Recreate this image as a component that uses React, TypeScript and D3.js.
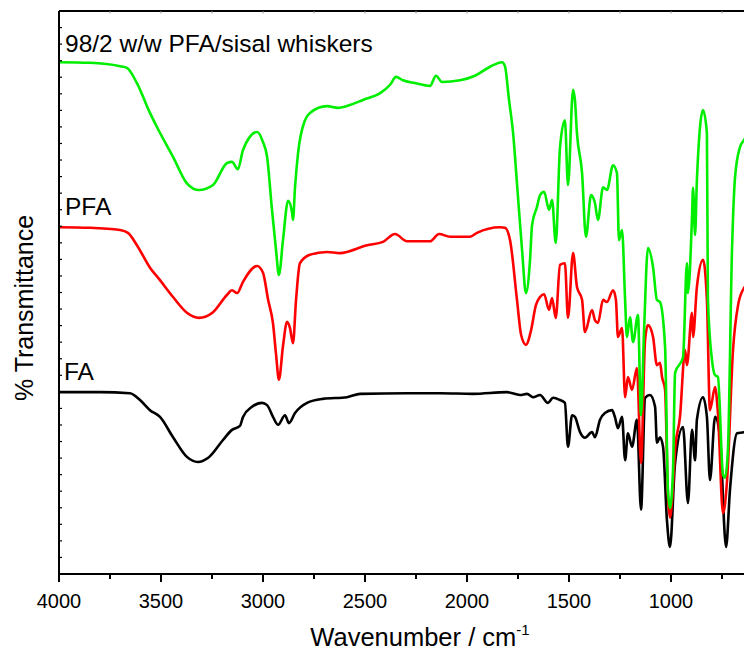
import React from 'react';
import * as d3 from 'd3';

const xMajorTicks = [4000, 3500, 3000, 2500, 2000, 1500, 1000];
const xMinorTicks = [3750, 3250, 2750, 2250, 1750, 1250, 750];
const topTicks = [3750, 3500, 3250, 3000, 2750, 2500, 2250, 2000, 1750, 1500, 1250, 1000, 750, 500];
const yTickCount = 34;

// series: [wavenumber (cm-1), transmittance (arb. %)]
const sisal: [number, number][] = [
  [4000, 90.9], [3848, 90.8], [3701, 90.2], [3667, 89.9], [3618, 87.2], [3554, 81.9], [3520, 79.4],
  [3441, 74.1], [3373, 69.4], [3314, 68.2], [3245, 69.1], [3176, 73.0], [3152, 73.2], [3123, 71.9],
  [3098, 75.3], [3029, 78.5], [3000, 76.7], [2980, 74.1], [2956, 64.7], [2936, 57.5], [2922, 53.1],
  [2902, 59.3], [2877, 66.3], [2858, 64.3], [2853, 62.9], [2843, 68.7], [2828, 74.8], [2794, 80.6],
  [2770, 81.9], [2686, 83.1], [2632, 82.8], [2574, 83.3], [2510, 84.2], [2426, 85.4], [2377, 86.9],
  [2348, 88.3], [2314, 87.7], [2255, 87.2], [2181, 86.7], [2152, 88.5], [2123, 87.4], [2034, 87.7],
  [1961, 88.5], [1887, 90.1], [1828, 90.9], [1814, 90.2], [1794, 84.2], [1774, 78.3], [1755, 69.4],
  [1730, 57.5], [1711, 49.9], [1691, 55.8], [1681, 62.0], [1657, 65.2], [1642, 67.3], [1622, 67.9],
  [1598, 64.7], [1583, 66.4], [1565, 58.8], [1544, 75.8], [1520, 80.6], [1505, 69.1], [1480, 86.0],
  [1471, 84.2], [1461, 78.3], [1436, 71.2], [1417, 59.9], [1392, 67.3], [1373, 65.9], [1358, 62.9],
  [1333, 68.7], [1314, 68.2], [1284, 72.6], [1265, 71.2], [1255, 59.3], [1240, 61.1], [1225, 48.7],
  [1216, 42.1], [1201, 45.6], [1186, 41.2], [1162, 46.0], [1147, 28.2], [1132, 43.3], [1113, 57.9],
  [1088, 54.5], [1069, 48.7], [1054, 48.3], [1029, 40.3], [1015, 14.9], [1005, 11.7], [990, 18.5],
  [980, 35.7], [941, 38.5], [922, 55.2], [917, 49.9], [897, 63.4], [892, 68.6], [882, 60.2],
  [873, 70.0], [843, 82.4], [824, 78.3], [819, 48.7], [799, 38.0], [784, 35.3], [770, 35.0],
  [745, 17.6], [735, 17.1], [721, 22.0], [701, 57.5], [686, 70.5], [662, 75.8], [642, 77.1],
  [600, 79.0], [400, 80.0],
];

const pfa: [number, number][] = [
  [4000, 61.6], [3848, 61.5], [3701, 61.1], [3662, 60.6], [3618, 58.4], [3554, 54.4], [3505, 52.2],
  [3441, 49.2], [3373, 46.4], [3314, 45.5], [3245, 46.5], [3176, 49.6], [3152, 50.4], [3127, 49.9],
  [3098, 51.9], [3029, 54.7], [3000, 53.5], [2975, 48.7], [2951, 44.5], [2936, 39.0], [2922, 34.5],
  [2902, 40.5], [2882, 44.8], [2868, 43.7], [2853, 41.0], [2838, 48.7], [2819, 55.2], [2770, 56.7],
  [2686, 57.2], [2623, 57.0], [2490, 58.4], [2412, 59.0], [2353, 60.4], [2294, 59.1], [2181, 59.1],
  [2137, 60.4], [2083, 59.9], [1985, 59.9], [1951, 60.6], [1838, 61.6], [1814, 61.5], [1789, 59.3],
  [1755, 48.7], [1735, 42.5], [1711, 40.7], [1686, 43.3], [1662, 47.8], [1642, 49.2], [1622, 49.7],
  [1598, 46.9], [1583, 49.0], [1565, 45.5], [1544, 54.9], [1520, 55.2], [1505, 45.5], [1480, 57.0],
  [1461, 51.0], [1436, 48.7], [1422, 43.0], [1387, 46.9], [1373, 45.1], [1358, 44.6], [1333, 48.7],
  [1314, 48.3], [1284, 50.4], [1270, 48.7], [1260, 42.1], [1240, 43.7], [1225, 31.4], [1211, 35.0],
  [1191, 32.7], [1167, 36.6], [1147, 19.7], [1127, 41.6], [1113, 44.2], [1088, 42.1], [1069, 37.1],
  [1054, 37.5], [1044, 35.0], [1029, 32.7], [1015, 14.0], [1005, 10.0], [993, 14.0], [980, 22.0],
  [956, 27.9], [931, 39.8], [922, 37.1], [897, 46.4], [892, 42.1], [873, 51.0], [843, 55.8],
  [824, 48.7], [809, 29.1], [784, 33.2], [770, 28.6], [745, 10.8], [725, 16.7], [696, 39.8],
  [671, 47.8], [642, 50.8], [600, 52.0], [400, 53.0],
];

const fa: [number, number][] = [
  [4000, 32.3], [3799, 32.3], [3652, 32.1], [3603, 30.9], [3554, 29.1], [3505, 27.9], [3441, 24.3],
  [3373, 20.8], [3319, 19.9], [3270, 20.6], [3196, 23.8], [3152, 25.6], [3113, 26.3], [3098, 27.9],
  [3054, 29.7], [3005, 30.4], [2980, 30.0], [2951, 27.9], [2926, 26.5], [2892, 28.2], [2873, 26.8],
  [2843, 28.6], [2784, 30.4], [2706, 31.1], [2588, 31.4], [2524, 32.0], [2294, 32.1], [2132, 32.1],
  [1971, 32.0], [1804, 32.3], [1740, 31.8], [1706, 32.0], [1676, 31.4], [1642, 31.8], [1603, 30.4],
  [1578, 31.3], [1544, 30.9], [1520, 30.4], [1505, 22.6], [1485, 28.2], [1471, 27.9], [1446, 25.2],
  [1422, 24.2], [1387, 25.2], [1373, 24.3], [1348, 27.4], [1324, 28.6], [1289, 29.1], [1275, 27.9],
  [1260, 25.9], [1240, 27.9], [1225, 20.2], [1211, 25.0], [1191, 22.6], [1167, 27.4], [1147, 11.4],
  [1127, 31.3], [1103, 31.8], [1078, 29.7], [1069, 23.3], [1054, 24.3], [1039, 22.6], [1020, 9.6],
  [1005, 4.8], [980, 19.7], [941, 26.1], [917, 12.6], [897, 25.6], [882, 20.2], [873, 27.4],
  [843, 31.4], [824, 27.9], [809, 16.7], [784, 27.9], [760, 24.3], [730, 4.8], [711, 14.9],
  [676, 25.0], [642, 25.2], [600, 26.0], [400, 26.0],
];

const FONT = '"Liberation Sans", Arial, Helvetica, sans-serif';

export default function App() {
  const left = 59, right = 793.4, top = 11, bottom = 574;
  const x = d3.scaleLinear().domain([4000, 400]).range([left, right]);
  const y = d3.scaleLinear().domain([0, 100]).range([bottom, top]);
  const line = d3
    .line<[number, number]>()
    .x((d) => x(d[0]))
    .y((d) => y(d[1]))
    .curve(d3.curveMonotoneX);
  const yTicks = d3.range(0, yTickCount + 1).map((i) => (i * 100) / yTickCount);

  return (
    <svg width={744} height={657} style={{ position: 'absolute', left: 0, top: 0, display: 'block', background: '#fff' }}>
      <defs>
        <clipPath id="plot">
          <rect x={left} y={top} width={right - left} height={bottom - top} />
        </clipPath>
      </defs>
      <rect x={0} y={0} width={744} height={657} fill="#fff" />
      <g clipPath="url(#plot)" fill="none" strokeWidth={2.6} strokeLinejoin="round" strokeLinecap="round">
        <path d={line(fa) || ''} stroke="#000000" />
        <path d={line(pfa) || ''} stroke="#ff0000" />
        <path d={line(sisal) || ''} stroke="#00ee00" />
      </g>
      {/* frame */}
      <line x1={left} x2={right} y1={top} y2={top} stroke="#000" strokeWidth={2.2} />
      <line x1={left} x2={right} y1={bottom} y2={bottom} stroke="#000" strokeWidth={2} />
      <line x1={left} x2={left} y1={top} y2={bottom} stroke="#000" strokeWidth={2} />
      {/* left ticks (inward) */}
      {yTicks.map((t, i) => (
        <line key={'yt' + i} x1={left} x2={left + 3} y1={y(t)} y2={y(t)} stroke="#000" strokeWidth={1.2} />
      ))}
      {/* top ticks */}
      {topTicks.map((t) => (
        <line key={'tt' + t} x1={x(t)} x2={x(t)} y1={top} y2={top + 2.5} stroke="#888" strokeWidth={1} />
      ))}
      {/* bottom ticks */}
      {xMajorTicks.map((t) => (
        <line key={'mj' + t} x1={x(t)} x2={x(t)} y1={bottom} y2={bottom + 8} stroke="#000" strokeWidth={2} />
      ))}
      {xMinorTicks.map((t) => (
        <line key={'mn' + t} x1={x(t)} x2={x(t)} y1={bottom} y2={bottom + 5} stroke="#000" strokeWidth={2} />
      ))}
      {xMajorTicks.map((t) => (
        <text key={'lb' + t} x={x(t)} y={608} fontSize={20} fontFamily={FONT} textAnchor="middle" fill="#000">
          {t}
        </text>
      ))}
      {/* axis titles */}
      <text x={420} y={646} fontSize={25.5} fontFamily={FONT} textAnchor="middle" fill="#000">
        Wavenumber / cm
        <tspan fontSize={15} dy={-11}>-1</tspan>
      </text>
      <text
        transform="translate(33,308) rotate(-90)"
        fontSize={25}
        fontFamily={FONT}
        textAnchor="middle"
        fill="#000"
      >
        % Transmittance
      </text>
      {/* series labels */}
      <text x={65} y={52} fontSize={24.5} fontFamily={FONT} fill="#000">98/2 w/w PFA/sisal whiskers</text>
      <text x={65} y={215} fontSize={24.5} fontFamily={FONT} fill="#000">PFA</text>
      <text x={64} y={380} fontSize={24.5} fontFamily={FONT} fill="#000">FA</text>
    </svg>
  );
}
